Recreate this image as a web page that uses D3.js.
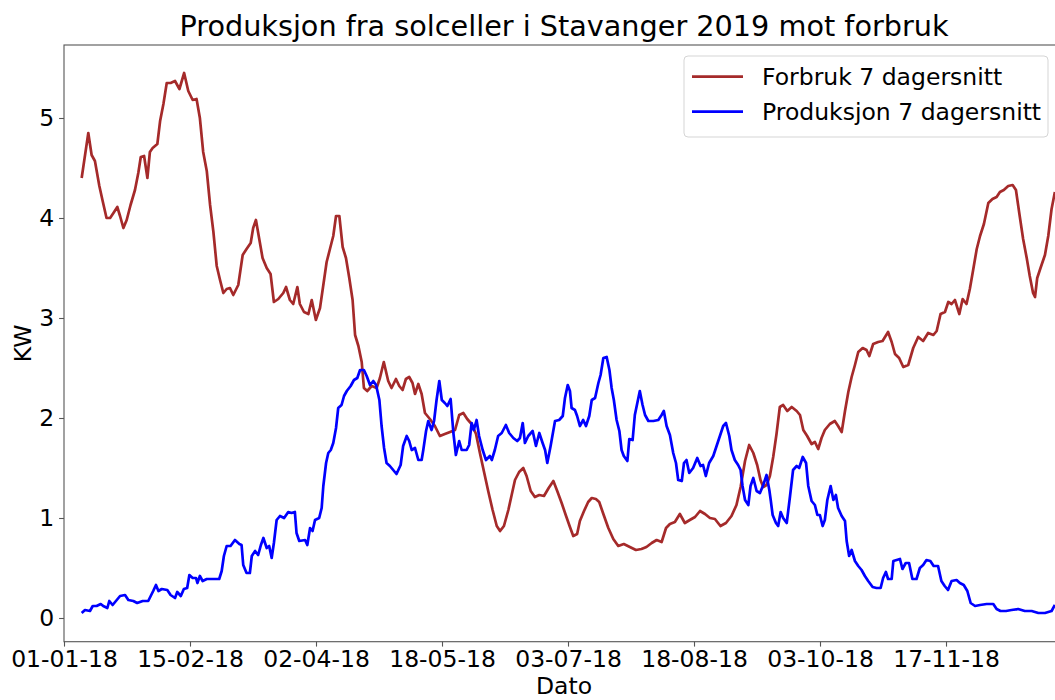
<!DOCTYPE html>
<html>
<head>
<meta charset="utf-8">
<script src="https://cdn.jsdelivr.net/npm/d3@7"></script>
<style>
  body { margin: 0; background: #fff; }
  svg { display: block; font-family: 'DejaVu Sans', sans-serif; }
</style>
</head>
<body>
<div id="chart"></div>
<script>
// dager etter 01-01-18 og 7 dagers snitt (KW)
var forbrukDager = [
  6.4, 8.8, 10.0, 11.2, 12.8, 14.0, 15.4, 16.7, 17.9, 19.3, 20.3, 21.5, 22.7, 24.1, 25.7, 26.9,
  27.8, 29.0, 30.2, 31.1, 32.1, 33.8, 34.8, 36.0, 37.2, 38.6, 40.2, 41.8, 43.5, 45.0, 46.6, 48.0,
  49.2, 50.4, 51.7, 52.9, 54.1, 55.3, 56.5, 57.7, 58.9, 60.1, 61.3, 63.1, 64.7, 66.1, 67.6, 68.5,
  69.5, 70.7, 71.9, 73.4, 74.8, 76.0, 77.6, 79.4, 80.4, 81.8, 83.0, 84.5, 85.4, 86.9, 88.5, 89.7,
  91.2, 92.7, 93.9, 95.1, 96.3, 97.5, 98.5, 99.7, 100.9, 102.1, 103.3, 104.5, 105.4, 106.6, 107.8,
  108.6, 109.8, 111.4, 113.2, 114.4, 115.8, 117.4, 118.6, 120.2, 121.4, 122.6, 123.8, 125.0, 126.2,
  127.1, 128.3, 129.5, 130.7, 132.5, 134.3, 136.1, 137.9, 139.8, 141.6, 143.1, 144.6, 146.0, 147.6,
  149.2, 150.6, 152.1, 153.6, 155.2, 156.7, 157.9, 159.3, 160.9, 162.1, 163.3, 164.8, 166.3, 167.5,
  169.0, 170.5, 172.1, 173.8, 175.5, 177.2, 178.6, 180.2, 181.8, 183.2, 184.4, 185.8, 186.8, 188.3,
  189.8, 191.1, 192.6, 193.8, 195.3, 197.1, 198.9, 200.7, 202.7, 204.9, 207.1, 209.1, 210.9, 212.8,
  214.6, 216.4, 218.0, 219.4, 221.2, 223.0, 224.8, 226.6, 228.5, 230.3, 232.1, 233.9, 235.7, 237.7,
  239.7, 241.7, 243.5, 245.0, 246.6, 248.1, 249.6, 251.0, 252.2, 253.2, 254.4, 255.6, 256.8, 258.0,
  259.2, 260.4, 261.9, 263.5, 265.3, 266.5, 267.7, 269.1, 270.7, 271.9, 273.1, 274.3, 275.5, 277.3,
  279.1, 280.3, 281.6, 282.8, 284.0, 285.2, 286.4, 287.6, 289.2, 290.6, 291.6, 293.0, 294.8, 296.4,
  298.4, 299.7, 300.9, 302.4, 303.9, 305.7, 307.5, 309.3, 311.1, 312.9, 314.8, 316.0, 317.4, 319.0,
  320.2, 321.4, 322.6, 324.2, 325.4, 326.8, 328.0, 329.2, 330.5, 331.7, 333.1, 334.7, 336.2, 337.7,
  338.9, 340.3, 341.9, 343.5, 344.7, 345.9, 347.3, 348.6, 349.7, 350.9, 351.6, 352.4, 353.6, 355.2,
  356.4, 357.6, 358.8
];
var forbruk = [
  4.40, 4.85, 4.63, 4.57, 4.32, 4.17, 4.00, 4.00, 4.05, 4.11, 4.02, 3.90, 3.98, 4.13, 4.28, 4.45,
  4.61, 4.62, 4.40, 4.66, 4.70, 4.74, 4.97, 5.14, 5.35, 5.35, 5.37, 5.29, 5.45, 5.27, 5.18, 5.19,
  5.00, 4.66, 4.47, 4.13, 3.86, 3.52, 3.38, 3.25, 3.29, 3.30, 3.23, 3.33, 3.63, 3.69, 3.75, 3.90,
  3.98, 3.79, 3.60, 3.50, 3.44, 3.16, 3.19, 3.25, 3.31, 3.18, 3.14, 3.31, 3.14, 3.06, 3.04, 3.18,
  2.98, 3.10, 3.33, 3.56, 3.69, 3.82, 4.02, 4.02, 3.71, 3.60, 3.40, 3.18, 2.83, 2.72, 2.56,
  2.30, 2.27, 2.32, 2.30, 2.40, 2.56, 2.37, 2.30, 2.39, 2.32, 2.28, 2.39, 2.41, 2.35,
  2.24, 2.34, 2.24, 2.05, 1.99, 1.92, 1.82, 1.84, 1.86, 1.88, 2.03, 2.05, 1.99, 1.94,
  1.84, 1.65, 1.46, 1.27, 1.08, 0.92, 0.87, 0.92, 1.08, 1.23, 1.38, 1.46, 1.50, 1.42,
  1.27, 1.21, 1.23, 1.22, 1.30, 1.37, 1.27, 1.15, 1.02, 0.91, 0.82, 0.84, 0.97, 1.07,
  1.16, 1.20, 1.19, 1.16, 1.04, 0.90, 0.79, 0.72, 0.74, 0.71, 0.68, 0.69, 0.71, 0.75,
  0.78, 0.76, 0.90, 0.94, 0.96, 1.04, 0.95, 0.98, 1.01, 1.07, 1.04, 1.00, 0.99, 0.92,
  0.95, 1.02, 1.13, 1.31, 1.57, 1.73, 1.65, 1.53, 1.38, 1.31, 1.33, 1.42, 1.61, 1.84,
  2.11, 2.13, 2.07, 2.11, 2.07, 2.03, 1.88, 1.82, 1.74, 1.76, 1.69, 1.80, 1.88, 1.94,
  1.97, 1.92, 1.86, 2.07, 2.26, 2.41, 2.53, 2.66, 2.70, 2.68, 2.62, 2.74, 2.76, 2.77,
  2.86, 2.76, 2.64, 2.60, 2.51, 2.53, 2.70, 2.81, 2.77, 2.85, 2.83, 2.87, 3.04, 3.06,
  3.16, 3.14, 3.18, 3.04, 3.19, 3.14, 3.29, 3.48, 3.69, 3.82, 3.94, 4.15, 4.19, 4.21,
  4.26, 4.28, 4.32, 4.33, 4.28, 4.05, 3.79, 3.60, 3.42, 3.25, 3.21, 3.40, 3.50, 3.63,
  3.82, 4.09, 4.26
];

var produksjonDager = [
  6.4, 7.6, 9.4, 10.4, 11.8, 13.3, 14.2, 15.7, 16.4, 17.6, 18.8, 20.3, 22.1, 23.3, 25.1, 26.5,
  28.5, 30.5, 31.4, 32.3, 33.3, 34.2, 35.4, 37.4, 38.6, 40.2, 41.0, 42.3, 43.4, 44.6, 45.4, 46.6,
  47.8, 48.3, 49.2, 50.2, 51.7, 54.1, 56.2, 57.1, 57.9, 58.9, 60.3, 61.9, 63.5, 64.3, 64.9, 66.1,
  67.3, 68.0, 69.2, 70.3, 71.3, 72.2, 73.4, 74.3, 75.2, 76.0, 77.0, 78.2, 79.7, 81.2, 82.4, 83.6,
  84.2, 85.2, 87.3, 88.1, 89.1, 90.0, 90.9, 92.4, 93.3, 93.9, 94.9, 95.7, 96.6, 97.5, 98.5, 99.3,
  100.5, 101.4, 102.4, 103.8, 105.0, 106.2, 107.2, 108.6, 109.6, 110.8, 112.0, 113.0, 114.2, 115.0,
  115.9, 116.8, 118.0, 119.2, 120.4, 121.9, 122.8, 124.1, 125.0, 125.9, 127.1, 128.3, 129.5, 130.1,
  131.1, 131.9, 133.1, 134.0, 134.9, 135.9, 136.8, 137.9, 138.8, 140.0, 141.0, 141.9, 143.1, 144.0,
  145.8, 146.7, 147.6, 148.4, 149.4, 150.3, 151.6, 152.8, 154.2, 154.9, 156.0, 157.2, 158.5, 160.0,
  161.2, 162.7, 164.1, 165.1, 166.1, 166.9, 168.1, 169.7, 170.9, 172.1, 173.3, 174.2, 175.0, 176.2,
  177.8, 179.3, 180.6, 181.4, 182.4, 183.2, 183.8, 185.0, 185.8, 186.8, 188.0, 189.0, 190.2, 191.1,
  192.3, 193.5, 194.3, 195.3, 196.5, 197.5, 198.3, 199.1, 200.1, 201.1, 201.9, 202.7, 204.0, 204.7,
  205.9, 206.7, 207.6, 208.5, 209.5, 210.4, 211.6, 213.4, 215.2, 216.4, 217.2, 218.2, 219.4, 220.6,
  221.6, 222.4, 223.7, 224.5, 225.4, 226.4, 227.8, 229.3, 230.5, 231.4, 232.4, 233.6, 235.1, 236.3,
  237.5, 238.7, 239.7, 240.9, 241.7, 242.9, 244.1, 245.0, 245.7, 246.6, 247.8, 248.6, 249.6, 250.8,
  252.0, 253.2, 254.4, 255.4, 255.9, 256.6, 257.8, 258.6, 259.5, 260.4, 261.7, 262.9, 264.0, 265.3,
  266.2, 267.5, 268.7, 269.5, 270.7, 271.9, 272.8, 273.7, 274.7, 275.5, 276.4, 277.6, 278.6, 279.5,
  280.3, 281.6, 282.8, 283.4, 284.3, 285.2, 286.4, 287.6, 288.8, 290.0, 291.2, 292.8, 294.2, 295.7,
  296.6, 297.6, 298.4, 299.7, 300.3, 301.5, 302.7, 303.6, 304.8, 306.0, 307.2, 308.7, 309.9, 311.1,
  312.3, 313.7, 314.9, 316.5, 317.7, 318.9, 320.1, 321.4, 323.2, 324.4, 325.8, 327.1, 328.3, 329.9,
  331.7, 334.1, 336.5, 337.7, 339.1, 341.1, 343.1, 345.5, 347.9, 350.4, 352.8, 355.2, 357.6, 358.8
];
var produksjon = [
  0.05, 0.08, 0.07, 0.12, 0.12, 0.14, 0.12, 0.10, 0.17, 0.13, 0.17, 0.22, 0.23, 0.18, 0.17, 0.15,
  0.17, 0.17, 0.22, 0.27, 0.33, 0.27, 0.29, 0.28, 0.23, 0.20, 0.26, 0.22, 0.29, 0.30, 0.43, 0.40,
  0.40, 0.35, 0.42, 0.37, 0.39, 0.39, 0.39, 0.47, 0.62, 0.72, 0.72, 0.78, 0.74, 0.73, 0.53, 0.45,
  0.45, 0.62, 0.67, 0.63, 0.73, 0.80, 0.70, 0.72, 0.60, 0.75, 0.98, 1.02, 1.00, 1.06, 1.05, 1.06,
  0.85, 0.77, 0.78, 0.73, 0.90, 0.87, 0.98, 1.00, 1.10, 1.32, 1.55, 1.65, 1.68, 1.75, 1.90, 2.10,
  2.13, 2.22, 2.27, 2.32, 2.38, 2.40, 2.48, 2.48, 2.42, 2.33, 2.37, 2.33, 2.18, 1.92,
  1.70, 1.55, 1.52, 1.48, 1.44, 1.53, 1.72, 1.82, 1.77, 1.68, 1.70, 1.58, 1.58, 1.68,
  1.87, 1.97, 1.88, 1.97, 2.18, 2.37, 2.18, 2.15, 2.12, 2.19, 1.85, 1.63, 1.77, 1.68,
  1.68, 1.73, 1.95, 1.88, 1.98, 1.82, 1.68, 1.58, 1.62, 1.58, 1.68, 1.82, 1.85, 1.93,
  1.85, 1.80, 1.77, 1.80, 1.95, 1.75, 1.82, 1.87, 1.72, 1.85, 1.75, 1.68, 1.55, 1.72,
  1.97, 1.98, 2.02, 2.20, 2.33, 2.27, 2.10, 2.08, 2.02, 1.92, 1.98, 1.92, 2.02, 2.18,
  2.20, 2.35, 2.43, 2.60, 2.61, 2.48, 2.30, 2.18, 1.98, 1.87, 1.68, 1.62, 1.57, 1.79,
  1.78, 2.03, 2.15, 2.27, 2.13, 2.03, 1.97, 1.97, 1.98, 2.03, 2.07, 1.92, 1.83, 1.65,
  1.55, 1.38, 1.37, 1.55, 1.58, 1.45, 1.50, 1.60, 1.52, 1.53, 1.42, 1.55, 1.62, 1.72,
  1.82, 1.92, 1.95, 1.82, 1.68, 1.58, 1.53, 1.48, 1.32, 1.18, 1.13, 1.32, 1.40, 1.27,
  1.25, 1.33, 1.43, 1.28, 1.18, 1.03, 0.95, 0.92, 1.06, 1.00, 0.95, 1.22, 1.48, 1.52,
  1.50, 1.61, 1.55, 1.32, 1.17, 1.13, 1.03, 1.03, 0.92, 0.98, 1.18, 1.32, 1.18, 1.23,
  1.10, 1.02, 0.97, 0.77, 0.62, 0.68, 0.57, 0.52, 0.48, 0.42, 0.37, 0.31, 0.30, 0.30,
  0.40, 0.46, 0.39, 0.39, 0.57, 0.58, 0.59, 0.49, 0.55, 0.55, 0.39, 0.39, 0.50, 0.53,
  0.58, 0.57, 0.52, 0.52, 0.37, 0.32, 0.28, 0.37, 0.38, 0.35, 0.33, 0.27, 0.15, 0.12,
  0.13, 0.14, 0.14, 0.09, 0.07, 0.07, 0.08, 0.09, 0.07, 0.07, 0.05, 0.05, 0.07, 0.13
];

// x-ticks (dager etter 01-01-18) og etiketter
var xTickDager = [0, 45.625, 91.25, 136.875, 182.5, 228.125, 273.75, 319.375];
var xTickLabels = ['01-01-18', '15-02-18', '02-04-18', '18-05-18', '03-07-18', '18-08-18', '03-10-18', '17-11-18'];
var yTicks = [0, 1, 2, 3, 4, 5];

var serier = [
  { navn: 'Forbruk 7 dagersnitt', farge: '#a52a2a', dager: forbrukDager, verdier: forbruk },
  { navn: 'Produksjon 7 dagersnitt', farge: '#0000ff', dager: produksjonDager, verdier: produksjon }
];

var W = 1055, H = 700;
var margin = { left: 64, top: 45 };
var plotW = 1000, plotH = 596.7;
var fontSize = 23.5;
var spine = '#555';

var svg = d3.select('#chart')
    .append('svg')
        .attr('width', W)
        .attr('height', H);

var x = d3.scaleLinear()
    .domain([0, 362.1])
    .range([margin.left, margin.left + plotW]);
var y = d3.scaleLinear()
    .domain([-0.237, 5.73])
    .range([margin.top + plotH, margin.top]);

// clip
svg.append('defs').append('clipPath')
    .attr('id', 'plot-clip')
  .append('rect')
    .attr('x', margin.left)
    .attr('y', margin.top)
    .attr('width', plotW)
    .attr('height', plotH);

// lines
var line = d3.line()
    .x(function(d) { return x(d[0]); })
    .y(function(d) { return y(d[1]); });

svg.append('g')
    .attr('clip-path', 'url(#plot-clip)')
  .selectAll('path')
  .data(serier)
  .enter()
  .append('path')
    .attr('d', function(s) {
      return line(s.dager.map(function(d, i) { return [d, s.verdier[i]]; }));
    })
    .attr('fill', 'none')
    .attr('stroke', function(s) { return s.farge; })
    .attr('stroke-width', 2.7)
    .attr('stroke-linejoin', 'round');

// frame
svg.append('rect')
    .attr('x', margin.left)
    .attr('y', margin.top)
    .attr('width', plotW)
    .attr('height', plotH)
    .attr('fill', 'none')
    .attr('stroke', spine)
    .attr('stroke-width', 1.1);

// x axis
var xAxis = svg.append('g')
    .attr('transform', 'translate(0,' + (margin.top + plotH) + ')')
    .call(d3.axisBottom(x)
        .tickValues(xTickDager)
        .tickFormat(function(d, i) { return xTickLabels[i]; })
        .tickSizeInner(4.9)
        .tickSizeOuter(0)
        .tickPadding(3.4));
xAxis.select('.domain').remove();
xAxis.selectAll('line').attr('stroke', spine).attr('stroke-width', 1.1);
xAxis.selectAll('text')
    .attr('fill', '#000')
    .style('font-family', "'DejaVu Sans', sans-serif")
    .style('font-size', fontSize + 'px');

// y axis
var yAxis = svg.append('g')
    .attr('transform', 'translate(' + margin.left + ',0)')
    .call(d3.axisLeft(y)
        .tickValues(yTicks)
        .tickFormat(d3.format('d'))
        .tickSizeInner(4.9)
        .tickSizeOuter(0)
        .tickPadding(4.9));
yAxis.select('.domain').remove();
yAxis.selectAll('line').attr('stroke', spine).attr('stroke-width', 1.1);
yAxis.selectAll('text')
    .attr('fill', '#000')
    .style('font-family', "'DejaVu Sans', sans-serif")
    .style('font-size', fontSize + 'px');

// title
svg.append('text')
    .attr('x', margin.left + plotW / 2)
    .attr('y', 36)
    .attr('text-anchor', 'middle')
    .style('font-size', '28.7px')
    .text('Produksjon fra solceller i Stavanger 2019 mot forbruk');

// axis labels
svg.append('text')
    .attr('x', margin.left + plotW / 2)
    .attr('y', 694)
    .attr('text-anchor', 'middle')
    .style('font-size', fontSize + 'px')
    .text('Dato');

svg.append('text')
    .attr('transform', 'translate(30.5,' + (margin.top + plotH / 2) + ') rotate(-90)')
    .attr('text-anchor', 'middle')
    .style('font-size', fontSize + 'px')
    .text('KW');

// legend
var legend = svg.append('g')
    .attr('class', 'legend');

legend.append('rect')
    .attr('x', 684)
    .attr('y', 56)
    .attr('width', 364)
    .attr('height', 81)
    .attr('rx', 4)
    .attr('fill', '#fff')
    .attr('fill-opacity', 0.8)
    .attr('stroke', '#d5d5d5')
    .attr('stroke-width', 1);

var legendItem = legend.selectAll('g.item')
    .data(serier)
    .enter()
    .append('g')
        .attr('class', 'item')
        .attr('transform', function(d, i) { return 'translate(0,' + (76.7 + i * 35) + ')'; });

legendItem.append('line')
    .attr('x1', 692)
    .attr('x2', 743)
    .attr('stroke', function(d) { return d.farge; })
    .attr('stroke-width', 2.7);

legendItem.append('text')
    .attr('x', 762)
    .attr('y', 8.3)
    .style('font-size', fontSize + 'px')
    .text(function(d) { return d.navn; });
</script>
</body>
</html>
